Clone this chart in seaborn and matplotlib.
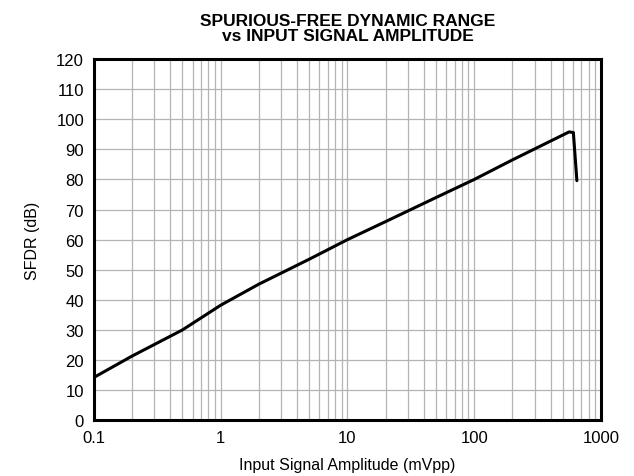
import matplotlib
matplotlib.use("Agg")
import matplotlib.pyplot as plt
import seaborn as sns
import pandas as pd
from matplotlib.ticker import LogLocator, FixedLocator, NullFormatter

amplitude = [0.1, 0.2, 0.5, 1, 2, 5, 10, 20, 50, 100, 200, 560, 605, 645]
sfdr = [14.2, 21.3, 30.0, 38.2, 45.2, 53.5, 60.0, 66.0, 74.0, 80.0, 86.5, 95.8, 95.6, 79.6]
xticks = [0.1, 1, 10, 100, 1000]
xticklabels = ["0.1", "1", "10", "100", "1000"]
yticks = list(range(0, 121, 10))

sns.set_theme(style="white")
plt.rcParams['font.family'] = ['Liberation Sans', 'DejaVu Sans']
plt.rcParams['text.color'] = 'black'

df = pd.DataFrame({"amp": amplitude, "sfdr": sfdr})
fig = plt.figure(figsize=(6.34, 4.77), dpi=100)
ax = fig.add_axes([0.148, 0.117, 0.8, 0.757])
sns.lineplot(data=df, x="amp", y="sfdr", ax=ax, color="black", linewidth=2.2, sort=False)
ax.set_xscale("log")
ax.set_xlim(0.1, 1000)
ax.set_ylim(0, 120)
ax.xaxis.set_major_locator(FixedLocator(xticks))
ax.set_xticklabels(xticklabels)
ax.xaxis.set_minor_locator(LogLocator(base=10, subs=range(2, 10)))
ax.xaxis.set_minor_formatter(NullFormatter())
ax.set_yticks(yticks)
ax.grid(True, which="both", color="#b4b4b4", linewidth=0.9)
ax.set_axisbelow(True)
for s in ax.spines.values():
    s.set_color("black")
    s.set_linewidth(2.2)
ax.tick_params(axis="both", which="both", length=0, labelsize=12, colors="black", pad=7)
ax.set_xlabel("Input Signal Amplitude (mVpp)", fontsize=11.5, color="black", labelpad=9)
ax.set_ylabel("SFDR (dB)", fontsize=11.5, color="black", labelpad=12)
ax.set_title("SPURIOUS-FREE DYNAMIC RANGE\nvs INPUT SIGNAL AMPLITUDE", fontsize=12.5, fontweight="bold", linespacing=1.0, pad=14, color="black")
fig.savefig("out.png", dpi=100)
